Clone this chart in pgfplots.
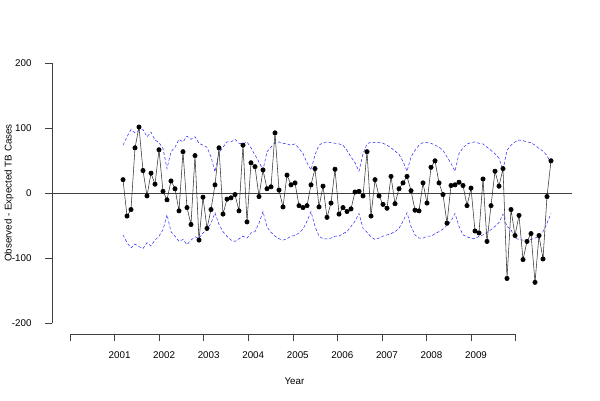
\documentclass[border=0pt]{standalone}
\usepackage{pgfplots}
\pgfplotsset{compat=1.18}
\usepackage{pgfplotstable}
\usepackage{fontspec}
\setmainfont{Liberation Sans}
\pgfplotstableread{
i obs up lo
1 21 74 -64
2 -35 87 -76
3 -25 98 -84
4 70 93 -78
5 102 97 -82
6 35 98 -85
7 -4 87 -76
8 31 94 -81
9 14 82 -72
10 67 78 -66
11 3 69 -56
12 -10 38 -33
13 19 64 -59
14 7 71 -66
15 -27 83 -74
16 64 79 -71
17 -22 88 -79
18 -48 83 -72
19 58 87 -67
20 -72 77 -69
21 -6 74 -61
22 -54 71 -56
23 -25 56 -46
24 13 33 -30
25 70 62 -48
26 -32 71 -59
27 -9 79 -66
28 -7 79 -72
29 -2 83 -74
30 -27 77 -70
31 74 76 -66
32 -44 79 -69
33 47 70 -61
34 41 59 -59
35 -5 48 -46
36 36 36 -28
37 7 64 -52
38 10 71 -60
39 93 78 -66
40 5 79 -70
41 -21 77 -72
42 28 76 -70
43 13 74 -66
44 16 76 -65
45 -19 69 -61
46 -22 61 -55
47 -19 47 -43
48 13 36 -28
49 38 59 -51
50 -21 74 -66
51 11 78 -70
52 -37 79 -70
53 -15 78 -69
54 37 77 -66
55 -32 76 -66
56 -22 74 -62
57 -28 66 -59
58 -24 56 -51
59 2 47 -43
60 3 34 -31
61 -4 61 -54
62 64 76 -60
63 -35 79 -67
64 21 78 -71
65 -4 78 -69
66 -17 77 -66
67 -23 74 -64
68 26 70 -62
69 -16 65 -59
70 7 60 -54
71 16 49 -43
72 26 34 -30
73 4 56 -51
74 -26 66 -64
75 -27 74 -69
76 16 78 -69
77 -15 78 -66
78 40 77 -66
79 50 74 -62
80 16 71 -59
81 -2 66 -55
82 -46 56 -49
83 12 46 -43
84 13 34 -31
85 17 61 -51
86 12 70 -64
87 -19 76 -67
88 8 78 -69
89 -58 79 -70
90 -61 77 -66
91 22 76 -64
92 -74 71 -60
93 -19 66 -56
94 34 61 -51
95 11 54 -45
96 38 36 -32
97 -131 66 -51
98 -25 74 -56
99 -65 79 -69
100 -34 82 -71
101 -102 81 -72
102 -74 79 -74
103 -62 78 -71
104 -137 74 -69
105 -65 69 -66
106 -101 65 -59
107 -5 58 -46
108 50 45 -31
}\data

\begin{document}
\fontsize{9.8pt}{12pt}\selectfont
\begin{tikzpicture}
\path[use as bounding box] (0,0) rectangle (600pt,400pt);
\begin{axis}[
  at={(52pt,66pt)}, anchor=south west,
  scale only axis, width=520pt, height=281.4pt,
  xmin=-16.75, xmax=113.25, ymin=-216.5, ymax=216.5,
  axis lines*=left,
  clip=false,
  axis line style={black!75, line width=0.6pt},
  x axis line style={shorten <=18pt, shorten >=56.3pt},
  y axis line style={shorten <=10.7pt, shorten >=10.7pt},
  tick align=outside, major tick length=7pt,
  tick style={black!75, line width=0.6pt},
  xtick={-12.25,-1.11,10.03,21.17,32.31,43.45,54.59,65.73,76.87,88.01,99.15},
  xticklabels={,2001,2002,2003,2004,2005,2006,2007,2008,2009,},
  ytick={-200,-100,0,100,200},
  /pgf/number format/assume math mode=true,
  ticklabel style={font=\fontsize{9.8pt}{12pt}\selectfont},
  xticklabel style={xshift=5pt, yshift=-7pt},
  yticklabel style={xshift=-10pt},
]
\addplot[black!75, line width=0.6pt, no marks] coordinates {(-16.75,0) (113.25,0)};
\addplot[blue!85, line width=0.5pt, dash pattern=on 3pt off 2pt, no marks] table[x=i,y=up]{\data};
\addplot[blue!85, line width=0.5pt, dash pattern=on 3pt off 2pt, no marks] table[x=i,y=lo]{\data};
\addplot[black!80, line width=0.55pt, mark=*, mark size=2.2pt, mark options={black, solid}] table[x=i,y=obs]{\data};
\end{axis}
\node at (294.5pt,19pt) {Year};
\node[rotate=90] at (9pt,207pt) {Observed - Expected TB Cases};
\end{tikzpicture}
\end{document}
